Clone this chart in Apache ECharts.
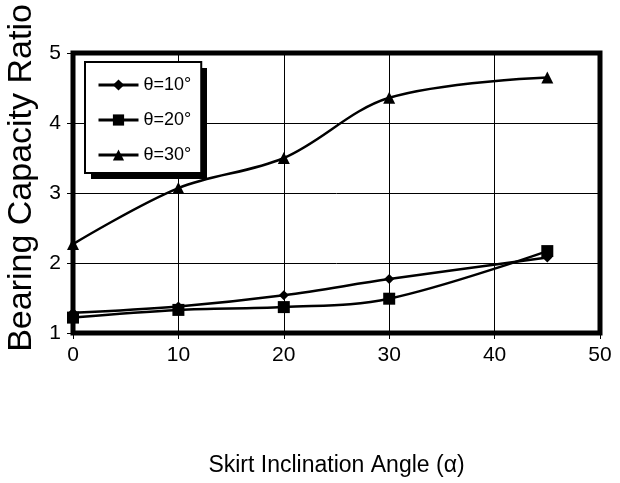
<!DOCTYPE html>
<html>
<head>
<meta charset="utf-8">
<script src="https://cdn.jsdelivr.net/npm/echarts@6/dist/echarts.min.js"></script>
<style>
  html, body { margin: 0; padding: 0; background: #fff; }
  #chart { width: 620px; height: 483px; }
</style>
</head>
<body>
<div id="chart"></div>
<script>
const angles = [0, 10, 20, 30, 45]
const theta10 = [1.29, 1.38, 1.54, 1.77, 2.08]
const theta20 = [1.22, 1.33, 1.37, 1.49, 2.17]
const theta30 = [2.27, 3.07, 3.5, 4.36, 4.65]
const seriesNames = ['θ=10°', 'θ=20°', 'θ=30°']

const font = 'Liberation Sans, Arial, sans-serif'

const pairs = (ys) => angles.map((x, i) => [x, ys[i]])

const chart = echarts.init(document.getElementById('chart'))

const lineSeries = (name, ys, symbol, size) => ({
  name: name,
  type: 'line',
  data: pairs(ys),
  smooth: 0.35,
  symbol: symbol,
  symbolSize: size,
  lineStyle: { color: '#000', width: 2.5 },
  itemStyle: { color: '#000' },
  z: 5
})

chart.setOption({
  animation: false,
  grid: {
    left: 73,
    right: 20,
    top: 53,
    bottom: 150,
    outerBoundsMode: 'none',
    show: true,
    borderColor: '#000',
    borderWidth: 5
  },
  // drop shadow behind the legend box
  graphic: [{
    type: 'rect',
    left: 91,
    top: 68,
    shape: { width: 116, height: 111 },
    style: { fill: '#000' },
    z: 9
  }],
  legend: {
    orient: 'vertical',
    left: 85,
    top: 62,
    padding: [13, 10, 8, 12],
    itemWidth: 40,
    itemHeight: 14,
    itemGap: 15,
    backgroundColor: '#fff',
    borderColor: '#000',
    borderWidth: 2,
    z: 10,
    lineStyle: { width: 3, color: '#000' },
    textStyle: { fontFamily: font, fontSize: 18, lineHeight: 20, color: '#000' },
    data: seriesNames
  },
  xAxis: {
    type: 'value',
    min: 0,
    max: 50,
    interval: 10,
    name: 'Skirt Inclination Angle (α)',
    nameLocation: 'middle',
    nameGap: 121,
    nameTextStyle: { fontFamily: font, fontSize: 23, color: '#000' },
    axisLine: { show: false },
    axisTick: { show: true, length: 6, lineStyle: { color: '#000', width: 1 } },
    axisLabel: { fontFamily: font, fontSize: 21, color: '#000', margin: 12 },
    splitLine: { show: true, lineStyle: { color: '#000', width: 1 } }
  },
  yAxis: {
    type: 'value',
    min: 1,
    max: 5,
    interval: 1,
    name: 'Bearing Capacity Ratio',
    nameLocation: 'middle',
    nameGap: 31,
    nameTextStyle: { fontFamily: font, fontSize: 34, color: '#000', padding: [0, 0, 0, 30] },
    axisLine: { show: false },
    axisTick: { show: true, length: 6, lineStyle: { color: '#000', width: 1 } },
    axisLabel: { fontFamily: font, fontSize: 21, color: '#000', margin: 12 },
    splitLine: { show: true, lineStyle: { color: '#000', width: 1 } }
  },
  series: [
    lineSeries(seriesNames[0], theta10, 'diamond', 10),
    lineSeries(seriesNames[1], theta20, 'rect', 12),
    lineSeries(seriesNames[2], theta30, 'triangle', 12)
  ]
})
</script>
</body>
</html>
